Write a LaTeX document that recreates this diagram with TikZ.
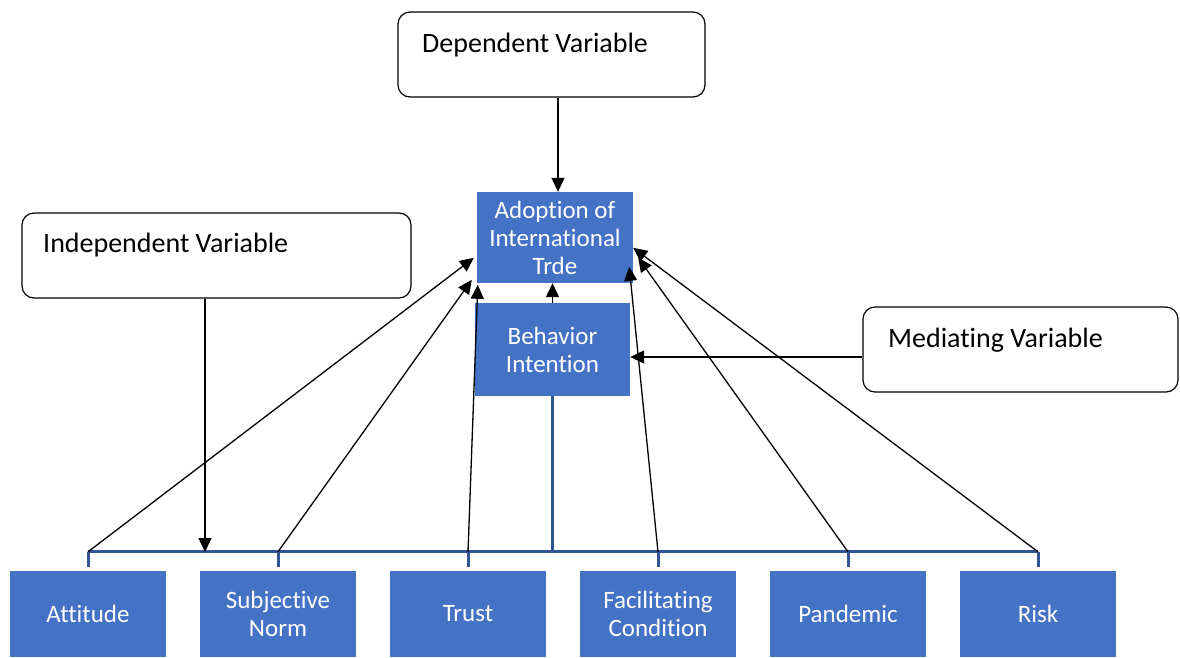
\documentclass[tikz,border=0pt]{standalone}
\usepackage{fontspec}
\setmainfont[Ligatures={NoCommon}]{Carlito}
\usepackage{tikz}
\usetikzlibrary{calc}
\usetikzlibrary{arrows.meta}

\definecolor{boxblue}{HTML}{4472C4}
\definecolor{barblue}{HTML}{2F5597}

\tikzset{
  varbox/.style={draw, line width=1.2pt, rounded corners=12pt, inner sep=0pt},
  vartext/.style={anchor=west, inner sep=0pt, font=\fontsize{28}{32}\selectfont},
  factor/.style={fill=boxblue, text=white, align=center, inner sep=0pt,
    minimum width=156pt, minimum height=86pt, font=\fontsize{25}{28}\selectfont},
  bar/.style={barblue, line width=3pt},
  link/.style={->, line width=1.3pt}
}

\begin{document}
\begin{tikzpicture}[x=1pt, y=-1pt, >={Triangle[length=14pt,width=13pt]}]
\useasboundingbox (0,0) rectangle (1180,657);

\node [varbox, minimum width=307pt, minimum height=85pt] (dep) at (551.5,54.5) {};
\node [vartext] (depT) at (422,45) {Dependent Variable};
\node [varbox, minimum width=389pt, minimum height=85pt] (ind) at (216.5,255.5) {};
\node [vartext] (indT) at (43,245) {Independent Variable};
\node [varbox, minimum width=315pt, minimum height=85pt] (med) at (1020.5,349.5) {};
\node [vartext] (medT) at (888,340) {Mediating Variable};

\node [factor, minimum height=91pt] (adopt) at (555,237.5) {Adoption of\\International\\Trde};
\node [factor, minimum width=155pt, minimum height=93pt] (beh) at (552.5,349.5) {Behavior\\Intention};

\node [factor] (att) at (88,614) {Attitude};
\node [factor] (sub) at (278,614) {Subjective\\Norm};
\node [factor] (tru) at (468,614) {Trust};
\node [factor] (fac) at (658,614) {Facilitating\\Condition};
\node [factor] (pan) at (848,614) {Pandemic};
\node [factor] (rsk) at (1038,614) {Risk};

\coordinate (attT) at ($(att.north)+(0,-19)$);
\coordinate (subT) at ($(sub.north)+(0,-19)$);
\coordinate (truT) at ($(tru.north)+(0,-19)$);
\coordinate (facT) at ($(fac.north)+(0,-19)$);
\coordinate (panT) at ($(pan.north)+(0,-19)$);
\coordinate (rskT) at ($(rsk.north)+(0,-19)$);
\coordinate (indIn) at (205,552);

\coordinate (inAtt) at ($(adopt.north west)+(-3,66)$);
\coordinate (inSub) at ($(adopt.north west)+(-5,88)$);
\coordinate (inTru) at ($(adopt.north west)+(1,93)$);
\coordinate (inFac) at ($(adopt.north east)+(-4,75)$);
\coordinate (inPan) at ($(adopt.north east)+(5,66)$);
\coordinate (inRsk) at ($(adopt.north east)+(0,56)$);
\coordinate (depIn) at ($(adopt.north)+(3,0)$);

\draw [bar] (attT) -- (rskT);
\draw [bar] (attT) -- ($(att.north)+(0,-4)$);
\draw [bar] (subT) -- ($(sub.north)+(0,-4)$);
\draw [bar] (truT) -- ($(tru.north)+(0,-4)$);
\draw [bar] (facT) -- ($(fac.north)+(0,-4)$);
\draw [bar] (panT) -- ($(pan.north)+(0,-4)$);
\draw [bar] (rskT) -- ($(rsk.north)+(0,-4)$);
\draw [bar] (beh.south) -- (beh.south |- attT);

\draw [link] (dep.south -| depIn) -- (depIn);
\draw [link] (ind.south -| indIn) -- (indIn);
\draw [link] ($(med.west)+(0,7.5)$) -- ($(beh.east)+(0,7.5)$);
\draw [link] (beh.north) -- (beh.north |- adopt.south);

\draw [link] (attT) -- (inAtt);
\draw [link] (subT) -- (inSub);
\draw [link] (truT) -- (inTru);
\draw [link] (facT) -- (inFac);
\draw [link] (panT) -- (inPan);
\draw [link] (rskT) -- (inRsk);

\end{tikzpicture}
\end{document}
